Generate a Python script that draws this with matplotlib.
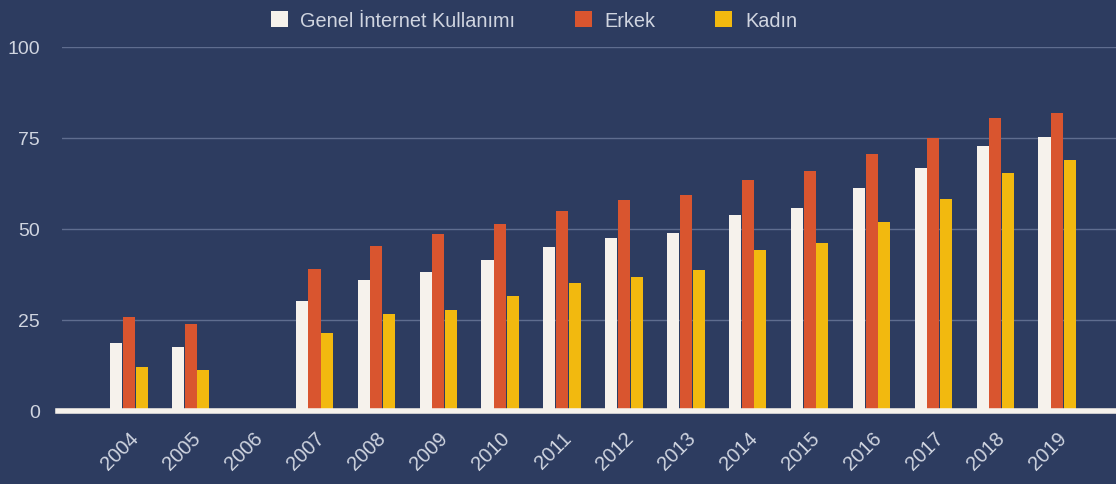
import numpy as np
import matplotlib.pyplot as plt
import matplotlib.transforms as mtransforms

plt.rcParams["font.family"] = ["Liberation Sans", "DejaVu Sans"]

# ── data (TÜİK, % internet usage) ─────────────────────────────────────────────
years  = ["2004", "2005", "2006", "2007", "2008", "2009", "2010", "2011",
          "2012", "2013", "2014", "2015", "2016", "2017", "2018", "2019"]
genel  = [18.8, 17.7, np.nan, 30.1, 35.9, 38.1, 41.6, 45.0,
          47.4, 48.9, 53.8, 55.9, 61.2, 66.8, 72.9, 75.3]
erkek  = [25.7, 24.0, np.nan, 38.9, 45.4, 48.7, 51.5, 54.9,
          58.1, 59.3, 63.5, 65.8, 70.5, 75.1, 80.4, 81.8]
kadin  = [12.2, 11.3, np.nan, 21.4, 26.6, 27.8, 31.7, 35.3,
          36.9, 38.7, 44.1, 46.1, 51.9, 58.3, 65.5, 68.9]
labels = ["Genel İnternet Kullanımı", "Erkek", "Kadın"]

BG     = "#2d3c60"
TXT    = "#d0d5e0"
colors = ["#f6f2ec", "#d9552f", "#f2b90f"]

fig = plt.figure(figsize=(11.16, 4.85), dpi=100, facecolor=BG)
ax  = fig.add_axes([62/1116, 1 - 412/485, 1 - 62/1116, 364/485])
ax.set_facecolor(BG)

x = np.arange(len(years))
w = 0.205
for k, (vals, lab, col) in enumerate(zip([genel, erkek, kadin], labels, colors)):
    ax.bar(x + (k - 1) * w, vals, width=w * 0.95, color=col, label=lab,
           zorder=3)

ax.set_xlim(-1.08, 15.95)
ax.set_ylim(0, 100)
ax.set_yticks([0, 25, 50, 75, 100])
ax.yaxis.grid(True, color="#5f6d8f", linewidth=1.0, zorder=0)
ax.axhline(0, color="#f6f2ec", linewidth=4, zorder=4, clip_on=False,
           xmin=-0.004)
for s in ax.spines.values():
    s.set_visible(False)

ax.set_xticks(x)
ax.set_xticklabels(years, rotation=45, ha="right", rotation_mode="anchor",
                   fontsize=14.5, color=TXT)
shift = mtransforms.ScaledTranslation(10/100, 0, fig.dpi_scale_trans)
for lbl in ax.get_xticklabels():
    lbl.set_transform(lbl.get_transform() + shift)
ax.tick_params(axis="x", length=0, pad=12)
ax.tick_params(axis="y", length=0, pad=16, labelsize=14, labelcolor=TXT)

fig.legend(loc="upper center", bbox_to_anchor=(0.4785, 1.013), ncol=3,
           frameon=False, fontsize=14.3, labelcolor=TXT, handlelength=0.85,
           handleheight=0.9, columnspacing=3.0, handletextpad=0.65)

plt.savefig("out.png", dpi=100, facecolor=BG)
